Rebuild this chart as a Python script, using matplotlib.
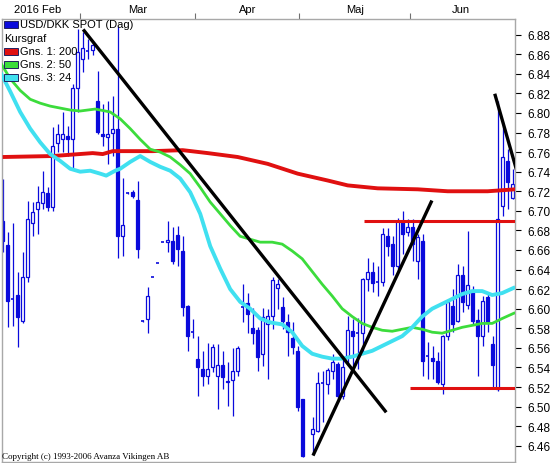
import matplotlib.pyplot as plt
from matplotlib.patches import Rectangle
import numpy as np

plt.rcParams['font.family'] = ['Liberation Sans', 'DejaVu Sans']

# Daily candles USD/DKK (None = no candle visible)
opens = [6.690, 6.665, 6.610, 6.614, 6.587, 6.632, 6.688, 6.702, 6.708, 6.718,
         6.704, 6.769, 6.773, 6.776, 6.773, 6.825, 6.855, 6.863, 6.864, 6.812,
         6.779, 6.775, 6.780, 6.784, 6.674, 6.718, 6.719, 6.711, 6.587, 6.590,
         6.632, 6.647, 6.668, 6.668, 6.669, 6.675, 6.659, 6.603, 6.576, 6.549,
         6.538, 6.531, 6.540, 6.531, 6.542, 6.526, 6.527, 6.536, 6.602, 6.606,
         6.580, 6.578, 6.554, 6.584, 6.593, 6.621, 6.602, 6.586, 6.570, 6.557,
         6.508, None, 6.472, 6.475, 6.524, 6.523, 6.536, 6.544, 6.511, 6.552,
         6.577, 6.575, 6.575, 6.630, 6.638, 6.627, 6.627, 6.674, 6.666, 6.644,
         6.689, 6.678, 6.683, 6.649, 6.669, 6.552, 6.550, 6.547, 6.523, 6.572,
         6.603, 6.587, 6.634, 6.604, 6.618, 6.588, 6.572, 6.612, 6.564, 6.518,
         6.705, 6.751, 6.713]
highs = [6.733, 6.678, 6.688, 6.638, 6.658, 6.710, 6.709, 6.725, 6.741, 6.724,
         6.786, 6.789, 6.801, 6.787, 6.830, 6.886, 6.883, 6.876, 6.874, 6.843,
         6.809, 6.812, 6.817, 6.889, 6.734, 6.719, 6.721, 6.731, 6.588, 6.622,
         6.632, 6.647, 6.668, 6.690, 6.684, 6.685, 6.674, 6.604, 6.590, 6.572,
         6.557, 6.565, 6.564, 6.564, 6.557, 6.546, 6.560, 6.562, 6.625, 6.616,
         6.601, 6.581, 6.601, 6.600, 6.632, 6.630, 6.612, 6.595, 6.586, 6.562,
         6.508, None, 6.489, 6.535, 6.536, 6.539, 6.554, 6.546, 6.549, 6.593,
         6.590, 6.591, 6.631, 6.652, 6.648, 6.644, 6.682, 6.682, 6.674, 6.693,
         6.700, 6.692, 6.692, 6.676, 6.676, 6.566, 6.562, 6.556, 6.573, 6.610,
         6.620, 6.646, 6.644, 6.679, 6.623, 6.600, 6.613, 6.615, 6.572, 6.812,
         6.791, 6.763, 6.743]
lows = [6.658, 6.581, 6.582, 6.561, 6.585, 6.627, 6.674, 6.676, 6.702, 6.700,
        6.700, 6.760, 6.760, 6.756, 6.743, 6.801, 6.842, 6.855, 6.859, 6.779,
        6.766, 6.748, 6.756, 6.652, 6.654, 6.717, 6.713, 6.652, 6.586, 6.575,
        6.632, 6.647, 6.668, 6.658, 6.646, 6.644, 6.593, 6.557, 6.570, 6.511,
        6.521, 6.523, 6.535, 6.498, 6.518, 6.501, 6.490, 6.531, 6.586, 6.575,
        6.564, 6.536, 6.541, 6.528, 6.579, 6.600, 6.579, 6.552, 6.554, 6.495,
        6.448, None, 6.453, 6.474, 6.484, 6.513, 6.528, 6.508, 6.508, 6.542,
        6.538, 6.538, 6.556, 6.618, 6.617, 6.613, 6.623, 6.654, 6.634, 6.639,
        6.656, 6.674, 6.649, 6.630, 6.531, 6.528, 6.528, 6.523, 6.513, 6.568,
        6.576, 6.586, 6.597, 6.600, 6.584, 6.531, 6.562, 6.576, 6.518, 6.516,
        6.695, 6.702, 6.712]
closes = [6.669, 6.608, 6.610, 6.592, 6.632, 6.692, 6.699, 6.709, 6.719, 6.704,
          6.766, 6.779, 6.778, 6.773, 6.825, 6.862, 6.866, 6.863, 6.869, 6.781,
          6.776, 6.779, 6.784, 6.674, 6.686, 6.718, 6.715, 6.661, 6.587, 6.613,
          6.632, 6.647, 6.668, 6.670, 6.649, 6.661, 6.602, 6.572, 6.576, 6.540,
          6.531, 6.538, 6.561, 6.542, 6.530, 6.525, 6.536, 6.560, 6.602, 6.595,
          6.575, 6.551, 6.592, 6.593, 6.629, 6.625, 6.587, 6.576, 6.561, 6.500,
          6.450, None, 6.477, 6.524, 6.524, 6.537, 6.546, 6.511, 6.540, 6.578,
          6.572, 6.575, 6.630, 6.638, 6.626, 6.627, 6.676, 6.664, 6.644, 6.690,
          6.676, 6.683, 6.666, 6.673, 6.547, 6.552, 6.547, 6.525, 6.572, 6.607,
          6.584, 6.634, 6.607, 6.624, 6.587, 6.572, 6.608, 6.586, 6.542, 6.692,
          6.755, 6.729, 6.727]

# moving averages, sampled along the chart (x = candle number)
ma200_x = [0, 10, 18, 20, 22, 30, 36, 41, 47, 53, 59, 65, 69, 75, 83, 89, 97, 102.5]
ma200 = [6.755, 6.756, 6.759, 6.758, 6.761, 6.761, 6.762, 6.759, 6.755, 6.748,
         6.738, 6.731, 6.726, 6.723, 6.722, 6.720, 6.720, 6.722]

ma50_x = [-0.5, 1.5, 3.5, 5.5, 7.5, 9.5, 11.5, 13.5, 15.5, 18.5, 19.5, 21.5, 23.5,
          25.5, 27.5, 29.5, 31.5, 33.5, 35.5, 37.5, 39.5, 41.5, 43.5, 45.5, 47.5,
          49.5, 51.5, 53.9, 55.9, 57.9, 59.9, 61.9, 63.9, 65.9, 67.9, 69.9, 71.9,
          73.9, 75.9, 77.9, 79.9, 81.9, 83.9, 85.9, 87.9, 89.9, 91.9, 93.9, 95.9,
          97.9, 99.9, 102.5]
ma50 = [6.852, 6.835, 6.823, 6.814, 6.810, 6.807, 6.805, 6.803, 6.802, 6.804,
        6.803, 6.801, 6.794, 6.784, 6.773, 6.763, 6.760, 6.755, 6.747, 6.738,
        6.724, 6.709, 6.697, 6.685, 6.674, 6.671, 6.668, 6.668, 6.666, 6.659,
        6.651, 6.638, 6.625, 6.613, 6.600, 6.592, 6.585, 6.581, 6.578, 6.577,
        6.579, 6.581, 6.579, 6.576, 6.575, 6.578, 6.581, 6.583, 6.585, 6.585,
        6.590, 6.596]

ma24_x = [-0.5, 1.5, 3.5, 5.5, 7.5, 9.5, 11.5, 13.5, 15.5, 17.5, 19.5, 20.7, 22.5,
          23.5, 25.5, 27.5, 29.5, 31.5, 33.5, 35.5, 37.5, 39.5, 41.5, 43.5, 45.5,
          47.5, 49.5, 51.5, 53.5, 55.9, 57.9, 59.9, 61.9, 63.9, 65.9, 67.9, 69.9,
          71.9, 73.9, 75.9, 77.9, 79.9, 81.9, 83.9, 85.9, 87.9, 89.9, 91.9, 93.9,
          95.9, 97.9, 99.9, 102.5]
ma24 = [6.842, 6.822, 6.801, 6.784, 6.770, 6.758, 6.751, 6.743, 6.740, 6.741,
        6.738, 6.736, 6.741, 6.743, 6.750, 6.756, 6.750, 6.745, 6.741, 6.733,
        6.719, 6.697, 6.664, 6.641, 6.620, 6.607, 6.600, 6.590, 6.586, 6.584,
        6.576, 6.562, 6.554, 6.551, 6.549, 6.549, 6.551, 6.554, 6.557, 6.562,
        6.567, 6.572, 6.581, 6.592, 6.600, 6.605, 6.610, 6.615, 6.618, 6.618,
        6.614, 6.616, 6.622]

# drawn trend lines (start, end) and support/resistance levels
trend_x = [(16.3, 76.5), (62.2, 85.7), (98.5, 102.7)]
trend_y = [(6.884, 6.4955), (6.4515, 6.709), (6.818, 6.743)]
level_y = [6.690, 6.519]
level_start = [72.3, 81.4]

month_edges = [15.5, 38.5, 59.3, 81.5]
month_centers = [7.0, 27.0, 48.9, 70.5, 91.7]
month_labels = ['2016 Feb', 'Mar', 'Apr', 'Maj', 'Jun']

blue = '#0A0ADC'
red = '#E01010'
green = '#3CDC3C'
cyan = '#40E0F0'

W, H = 551, 464
fig = plt.figure(figsize=(W / 100, H / 100), dpi=100)
ax = fig.add_axes([2 / W, 1 / H, 513 / W, 443 / H])

o = np.array(opens, dtype=float)
h = np.array(highs, dtype=float)
l = np.array(lows, dtype=float)
c = np.array(closes, dtype=float)

# candles
for i in range(len(o)):
    if np.isnan(o[i]):
        continue
    ax.vlines(i, l[i], h[i], color=blue, lw=0.9, zorder=2)
    if abs(c[i] - o[i]) < 1e-4:
        ax.hlines(o[i], i - 0.35, i + 0.35, color=blue, lw=1.2, zorder=2)
    else:
        face = blue if c[i] < o[i] else 'white'
        ax.add_patch(Rectangle((i - 0.35, min(o[i], c[i])), 0.7, abs(c[i] - o[i]),
                               facecolor=face, edgecolor=blue, lw=0.9, zorder=2))

# moving averages
ax.plot(ma200_x, ma200, color=red, lw=2.8, zorder=3, solid_capstyle='butt')
ax.plot(ma50_x, ma50, color=green, lw=2.0, zorder=3, solid_capstyle='butt')
ax.plot(ma24_x, ma24, color=cyan, lw=2.8, zorder=3, solid_capstyle='butt')

# support / resistance
for y, x0 in zip(level_y, level_start):
    ax.hlines(y, x0, 103, color=red, lw=2.2, zorder=4)

# trend lines
for xs, ys in zip(trend_x, trend_y):
    ax.plot(xs, ys, color='black', lw=2.4, zorder=5)

ax.set_xlim(-0.14, 102.46)
ax.set_ylim(6.4434, 6.896)

yt = np.arange(6.46, 6.8801, 0.02)
ax.yaxis.tick_right()
ax.set_yticks(yt)
ax.set_yticklabels([f"{v:.2f}" for v in yt])
ax.tick_params(axis='y', direction='out', length=4, width=0.8, color='black',
               labelsize=8.5, pad=5)

ax.xaxis.tick_top()
ax.set_xticks(month_edges)
ax.set_xticklabels([])
ax.set_xticks(month_centers, minor=True)
ax.set_xticklabels(month_labels, minor=True)
ax.tick_params(axis='x', which='major', direction='out', length=4, width=0.8, color='#707070')
ax.tick_params(axis='x', which='minor', length=0, labelsize=8, pad=3.5)

for s in ax.spines.values():
    s.set_color('#A8A8A8')
    s.set_linewidth(1)


def fx(x):
    return x / W


def fy(y):
    return 1 - y / H


# legend, top left inside the chart
legend_rows = [(blue, 'USD/DKK SPOT (Dag)', 25.5),
               (None, 'Kursgraf', 39),
               (red, 'Gns. 1: 200', 52),
               (green, 'Gns. 2: 50', 65),
               (cyan, 'Gns. 3: 24', 78)]
for col, txt, yc in legend_rows:
    if col is None:
        fig.text(fx(4), fy(yc), txt, fontsize=8, va='center', ha='left')
        continue
    fig.add_artist(Rectangle((fx(4), fy(yc + 3.5)), 14 / W, 7 / H, transform=fig.transFigure,
                             facecolor=col, edgecolor='#202060', lw=0.7, zorder=6))
    fig.text(fx(20), fy(yc), txt, fontsize=8, va='center', ha='left', zorder=6)

fig.text(fx(2), fy(457), 'Copyright (c) 1993-2006 Avanza Vikingen AB',
         family=['Liberation Serif', 'DejaVu Serif'], fontsize=6.5, va='center', ha='left')

fig.savefig('out.png', dpi=100)
